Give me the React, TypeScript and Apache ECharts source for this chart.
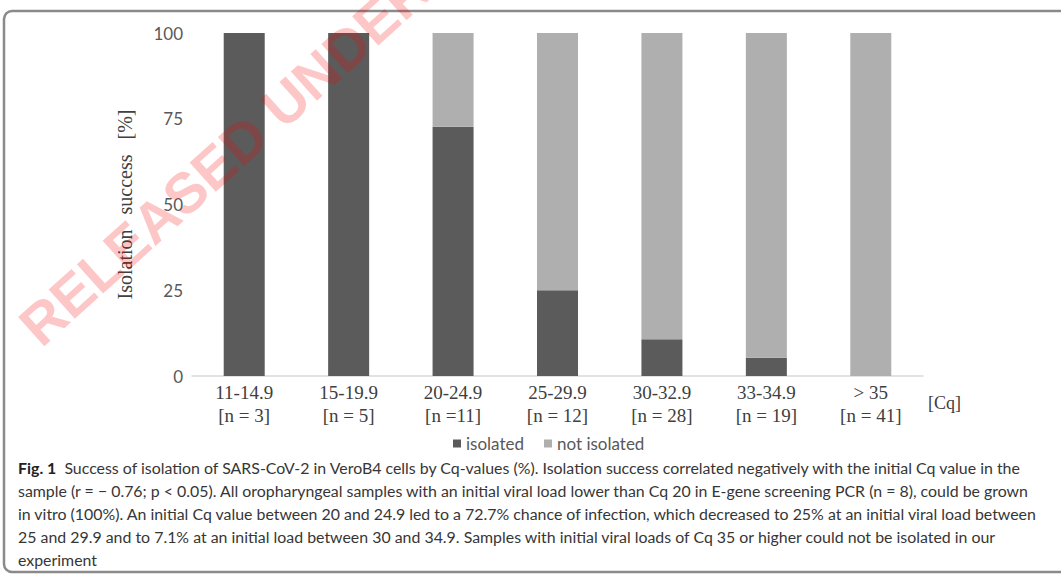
import React, { useEffect, useRef } from "react";
import * as echarts from "echarts";

const cqRanges = ["11-14.9", "15-19.9", "20-24.9", "25-29.9", "30-32.9", "33-34.9", "> 35"];
const sampleCounts = ["[n = 3]", "[n = 5]", "[n =11]", "[n = 12]", "[n = 28]", "[n = 19]", "[n = 41]"];
const isolated = [100, 100, 72.7, 25, 10.7, 5.3, 0];
const notIsolated = [0, 0, 27.3, 75, 89.3, 94.7, 100];
const yTicks = [0, 25, 50, 75, 100];

const captionLines = [
  "Success of isolation of SARS-CoV-2 in VeroB4 cells by Cq-values (%). Isolation success correlated negatively with the initial Cq value in the",
  "sample (r = \u2212 0.76; p < 0.05). All oropharyngeal samples with an initial viral load lower than Cq 20 in E-gene screening PCR (n = 8), could be grown",
  "in vitro (100%). An initial Cq value between 20 and 24.9 led to a 72.7% chance of infection, which decreased to 25% at an initial viral load between",
  "25 and 29.9 and to 7.1% at an initial load between 30 and 34.9. Samples with initial viral loads of Cq 35 or higher could not be isolated in our",
  "experiment",
];

const CAP_FONT = "Lato, 'Liberation Sans', sans-serif";
const SERIF = "'Liberation Serif', 'DejaVu Serif', serif";
const SANS = "Lato, 'Liberation Sans', sans-serif";
const CAP_SIZE = 15.9;

export default function App() {
  const ref = useRef<HTMLDivElement>(null);
  useEffect(() => {
    if (!ref.current) return;
    const chart = echarts.init(ref.current, undefined, { renderer: "svg" });
    const categories = cqRanges.map((r, i) => r + "\n" + sampleCounts[i]);
    const captionGraphics: any[] = captionLines.map((line, i) => {
      if (i === 0) {
        return {
          type: "text",
          left: 18,
          top: 459,
          z: 10,
          style: {
            text: "{b|Fig. 1}  " + line,
            font: `${CAP_SIZE}px ${CAP_FONT}`,
            fill: "#363636",
            rich: {
              b: { fontWeight: "bold", fontSize: CAP_SIZE, fontFamily: CAP_FONT, fill: "#222" },
            },
          },
        };
      }
      return {
        type: "text",
        left: 18,
        top: 459 + i * 23.2,
        z: 10,
        style: { text: line, font: `${CAP_SIZE}px ${CAP_FONT}`, fill: "#363636" },
      };
    });
    chart.setOption({
      animation: false,
      backgroundColor: "#ffffff",
      grid: { left: 192, right: 138, top: 33, bottom: 198, containLabel: false },
      legend: {
        left: 448,
        top: 430,
        icon: "rect",
        itemWidth: 8,
        itemHeight: 8,
        itemGap: 20,
        textStyle: { color: "#595959", fontSize: 17, fontFamily: SANS },
        data: ["isolated", "not isolated"],
      },
      xAxis: {
        type: "category",
        data: categories,
        axisLine: { show: true, lineStyle: { color: "#d9d9d9", width: 1.5 } },
        axisTick: { show: false },
        axisLabel: {
          color: "#404040",
          fontSize: 19,
          fontFamily: SERIF,
          lineHeight: 23,
          margin: 5,
          interval: 0,
        },
      },
      yAxis: {
        type: "value",
        min: yTicks[0],
        max: yTicks[yTicks.length - 1],
        interval: 25,
        name: "Isolation   success   [%]",
        nameLocation: "middle",
        nameRotate: 90,
        nameGap: 57,
        nameTextStyle: { color: "#404040", fontSize: 20, fontFamily: SERIF },
        axisLine: { show: false },
        axisTick: { show: false },
        splitLine: { show: false },
        axisLabel: { color: "#595959", fontSize: 17, fontFamily: SANS, margin: 9 },
      },
      series: [
        {
          name: "isolated",
          type: "bar",
          stack: "total",
          barWidth: 41,
          data: isolated,
          itemStyle: { color: "#5b5b5b" },
        },
        {
          name: "not isolated",
          type: "bar",
          stack: "total",
          barWidth: 41,
          data: notIsolated,
          itemStyle: { color: "#afafaf" },
        },
      ],
      graphic: [
        {
          type: "rect",
          z: 1,
          shape: { x: 4, y: 11, width: 1100, height: 561, r: 8 },
          style: { fill: "none", stroke: "#8a8a8a", lineWidth: 2.5 },
        },
        {
          type: "text",
          x: 928,
          y: 403,
          z: 10,
          style: {
            text: "[Cq]",
            font: `18px ${SERIF}`,
            fill: "#404040",
            verticalAlign: "middle",
          },
        },
        ...captionGraphics,
        {
          type: "text",
          x: 28,
          y: 334,
          rotation: (42 * Math.PI) / 180,
          z: 100,
          style: {
            text: "RELEASED UNDER",
            font: `bold 57px 'Liberation Sans', Arial, sans-serif`,
            fill: "rgba(245, 0, 0, 0.22)",
            verticalAlign: "middle",
            align: "left",
          },
        },
      ],
    });
    return () => chart.dispose();
  }, []);
  return (
    <div
      ref={ref}
      style={{ position: "absolute", left: 0, top: 0, width: 1061, height: 574 }}
    />
  );
}
